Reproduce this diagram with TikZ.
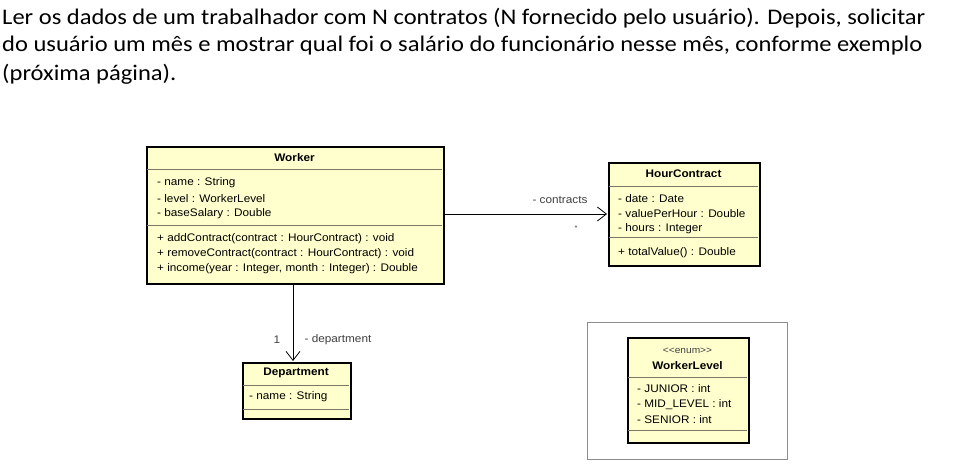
\documentclass[tikz,border=0pt]{standalone}
\usepackage{fontspec}
\setmainfont[FakeStretch=1.07]{Liberation Sans}
\newfontfamily\hdrfont[FakeStretch=1.1]{Carlito}
\usetikzlibrary{arrows.meta}
\definecolor{umlfill}{RGB}{255,255,206}
\definecolor{sepcol}{RGB}{120,120,100}
\tikzset{
  classbox/.style={draw=black, line width=2.2pt, fill=umlfill, anchor=north west, inner sep=0pt},
  sepline/.style={draw=sepcol, line width=0.7pt},
  mem/.style={anchor=west, inner sep=0pt, font=\fontsize{11}{12}\selectfont},
  ttl/.style={inner sep=0pt, font=\fontsize{11}{12}\selectfont\bfseries},
  lbl/.style={inner sep=0pt, font=\fontsize{11}{12}\selectfont, text=black!75},
  assoc/.style={draw=black, line width=0.8pt, -{Straight Barb[length=9pt, width=14pt, line width=0.8pt]}},
  hdr/.style={anchor=west, inner sep=0pt, font=\hdrfont\fontsize{22.3}{26}\selectfont},
}
\begin{document}
\begin{tikzpicture}[x=1pt, y=-1pt]
\useasboundingbox (0,0) rectangle (955,465);
% header text
\node[hdr] (h1) at (2,18) {Ler os dados de um trabalhador com N contratos (N fornecido pelo usuário). Depois, solicitar};
\node[hdr] (h2) at (2,46) {do usuário um mês e mostrar qual foi o salário do funcionário nesse mês, conforme exemplo};
\node[hdr] (h3) at (2,74) {(próxima página).};

% Worker
\node[classbox, minimum width=297pt, minimum height=137pt] (worker) at (146,146) {};
\draw[sepline] (147,169) -- (442,169);
\draw[sepline] (147,225) -- (442,225);
\node[ttl] (wt) at (294.5,158) {Worker};
\node[mem] (w1) at (157,183) {- name : String};
\node[mem] (w2) at (157,199) {- level : WorkerLevel};
\node[mem] (w3) at (157,214) {- baseSalary : Double};
\node[mem] (w4) at (157,239) {+ addContract(contract : HourContract) : void};
\node[mem] (w5) at (157,254) {+ removeContract(contract : HourContract) : void};
\node[mem] (w6) at (157,269) {+ income(year : Integer, month : Integer) : Double};

% HourContract
\node[classbox, minimum width=151pt, minimum height=103pt] (hc) at (608,162) {};
\draw[sepline] (609,186) -- (758,186);
\draw[sepline] (609,237) -- (758,237);
\node[ttl] (hct) at (683.5,174) {HourContract};
\node[mem] (hc1) at (618,199) {- date : Date};
\node[mem] (hc2) at (618,214) {- valuePerHour : Double};
\node[mem] (hc3) at (618,229) {- hours : Integer};
\node[mem] (hc4) at (618,253) {+ totalValue() : Double};

% Department
\node[classbox, minimum width=108pt, minimum height=56pt] (dep) at (242,362) {};
\draw[sepline] (243,385) -- (349,385);
\draw[sepline] (243,409) -- (349,409);
\node[ttl] (dept) at (296,373) {Department};
\node[mem] (dep1) at (249,397) {- name : String};

% WorkerLevel frame and class
\node[draw=black!45, line width=0.8pt, anchor=north west, minimum width=200pt, minimum height=137pt, inner sep=0pt] (frame) at (587,322) {};
\node[classbox, minimum width=121pt, minimum height=105pt] (wl) at (627,337) {};
\draw[sepline] (628,377) -- (747,377);
\draw[sepline] (628,430) -- (747,430);
\node[lbl, font=\fontsize{9.5}{11}\selectfont] (wls) at (687.5,351) {<{}<enum>{}>};
\node[ttl] (wlt) at (687.5,366) {WorkerLevel};
\node[mem] (wl1) at (637,389) {- JUNIOR : int};
\node[mem] (wl2) at (637,405) {- MID\_LEVEL : int};
\node[mem] (wl3) at (637,420) {- SENIOR : int};

% associations
\coordinate (wa) at (443,214);
\coordinate (hca) at (607,214);
\draw[assoc] (wa) -- (hca);
\node[lbl] (lc) at (560,200) {- contracts};
\node[lbl, font=\fontsize{7}{8}\selectfont] (lstar) at (576,228) {*};

\coordinate (wb) at (293,284);
\coordinate (depa) at (293,361);
\draw[assoc] (wb) -- (depa);
\node[lbl] (l1) at (277,340) {1};
\node[lbl] (ld) at (338,340) {- department};
\end{tikzpicture}
\end{document}
